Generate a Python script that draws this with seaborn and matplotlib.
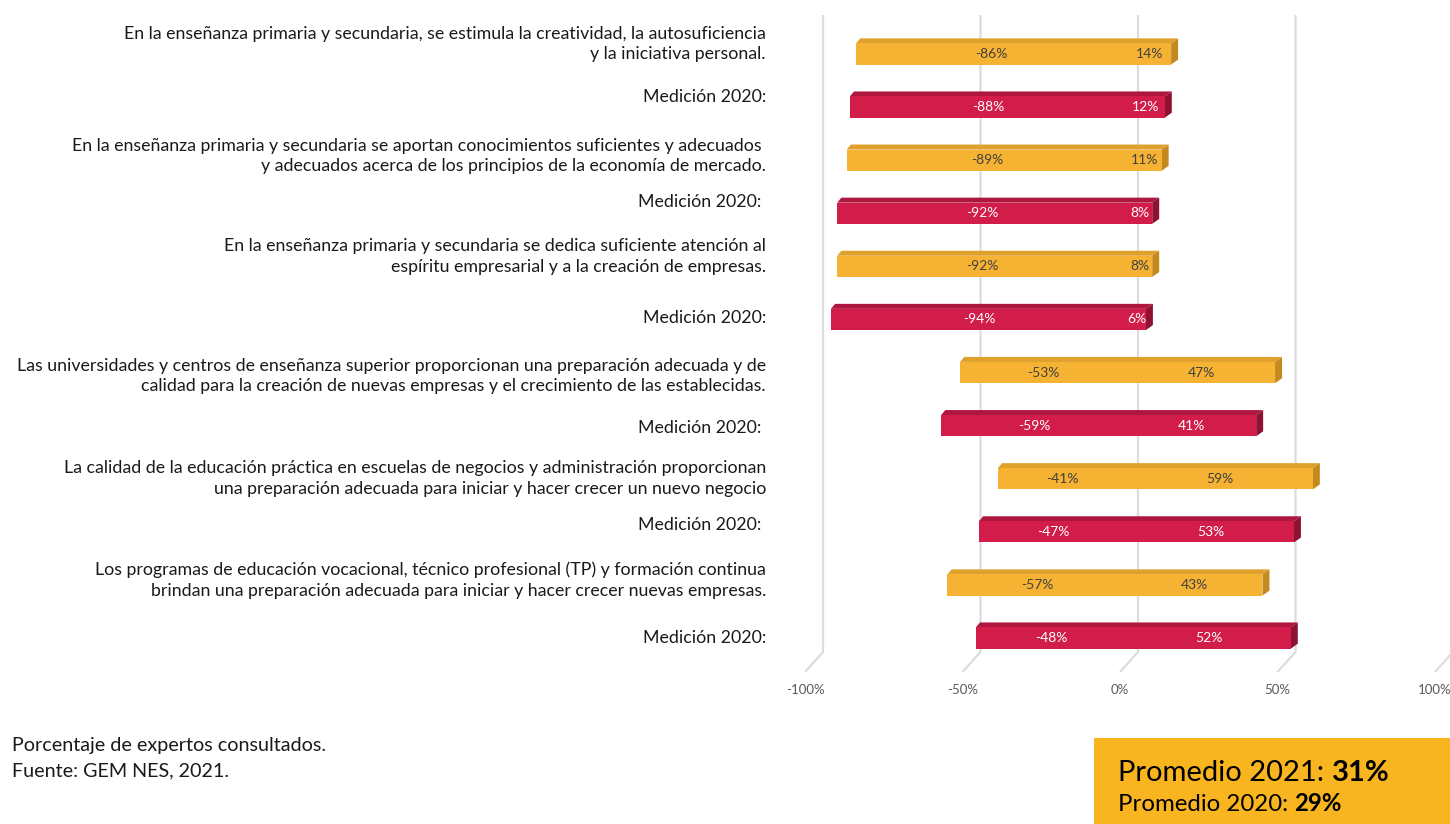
import matplotlib
matplotlib.use("Agg")
import matplotlib.pyplot as plt
import matplotlib.transforms as mtrans
from matplotlib.patches import Polygon, Rectangle
import seaborn as sns
import pandas as pd

sns.set_style("white")
plt.rcParams['font.family'] = ['Lato', 'DejaVu Sans']

# ---------------- data ----------------
row_labels = [
    "En la enseñanza primaria y secundaria, se estimula la creatividad, la autosuficiencia\ny la iniciativa personal.",
    "Medición 2020:",
    "En la enseñanza primaria y secundaria se aportan conocimientos suficientes y adecuados \ny adecuados acerca de los principios de la economía de mercado.",
    "Medición 2020: ",
    "En la enseñanza primaria y secundaria se dedica suficiente atención al\nespíritu empresarial y a la creación de empresas.",
    "Medición 2020:",
    "Las universidades y centros de enseñanza superior proporcionan una preparación adecuada y de\ncalidad para la creación de nuevas empresas y el crecimiento de las establecidas.",
    "Medición 2020: ",
    "La calidad de la educación práctica en escuelas de negocios y administración proporcionan\nuna preparación adecuada para iniciar y hacer crecer un nuevo negocio",
    "Medición 2020: ",
    "Los programas de educación vocacional, técnico profesional (TP) y formación continua\nbrindan una preparación adecuada para iniciar y hacer crecer nuevas empresas.",
    "Medición 2020:",
]
series = ["2021", "2020"] * 6
neg_values = [-86, -88, -89, -92, -92, -94, -53, -59, -41, -47, -57, -48]
pos_values = [14, 12, 11, 8, 8, 6, 47, 41, 59, 53, 43, 52]
x_ticks = [-100, -50, 0, 50, 100]
x_tick_labels = ["-100%", "-50%", "0%", "50%", "100%"]
footer_lines = ["Porcentaje de expertos consultados.", "Fuente: GEM NES, 2021."]
avg_2021 = 31
avg_2020 = 29

# ---------------- style ----------------
front_col = {"2021": "#F6B333", "2020": "#D21C4A"}
top_col = {"2021": "#DFA02C", "2020": "#B0173F"}
side_col = {"2021": "#C58A1F", "2020": "#8F1233"}
txt_col = {"2021": "#404040", "2020": "#FFFFFF"}
label_dy = [-10, -10, -4, -11, -10, -1.5, 3.4, 2.3, 0, -7, -5, 0]  # px offsets of left texts
ROW_PX = 53.1
PX_PER_PCT = 3.15
BAR_H = 0.40
DX = 7 / PX_PER_PCT   # depth in data % units
DY = 5 / ROW_PX       # depth in row units

W, H = 1450, 824
fig = plt.figure(figsize=(W / 100, H / 100), dpi=100)
ax = fig.add_axes([812 / W, (H - 672) / H, 630 / W, 657 / H])

ids = [f"r{i}" for i in range(len(neg_values))]
df = pd.DataFrame({"id": ids, "neg": neg_values, "pos": pos_values, "serie": series})
pal = {i: front_col[s] for i, s in zip(ids, series)}

sns.barplot(data=df, y="id", x="neg", hue="id", palette=pal, order=ids,
            orient="h", width=BAR_H, legend=False, ax=ax, zorder=3, linewidth=0, saturation=1)
sns.barplot(data=df, y="id", x="pos", hue="id", palette=pal, order=ids,
            orient="h", width=BAR_H, legend=False, ax=ax, zorder=3, linewidth=0, saturation=1)

ax.set_xlim(-100, 100)
ax.set_ylim(11.639, -0.734)
for s in ax.spines.values():
    s.set_visible(False)
ax.set_ylabel("")
ax.set_xlabel("")
ax.set_yticks([])
ax.set_xticks(x_ticks)
ax.set_xticklabels(x_tick_labels, color="#595959", fontsize=9.5)
ax.tick_params(axis="x", length=0, pad=9)
lab_shift = mtrans.ScaledTranslation(-7 / 100, 0, fig.dpi_scale_trans)
for lab in ax.get_xticklabels():
    lab.set_transform(lab.get_transform() + lab_shift)

# 3D-ish gridlines (back wall shifted right, slanted at the bottom)
back = 11 / PX_PER_PCT
front = -7 / PX_PER_PCT
y_knee = (652 - 54) / ROW_PX
for t in x_ticks:
    ax.plot([t + back, t + back, t + front], [-0.734, y_knee, 11.639], color="#DCDCDC",
            lw=1.6, zorder=0, clip_on=False, solid_capstyle="butt")

# depth faces + value labels
for i, (n, p, s) in enumerate(zip(neg_values, pos_values, series)):
    yt = i - BAR_H / 2
    yb = i + BAR_H / 2
    ax.add_patch(Polygon([(n, yt), (p, yt), (p + DX, yt - DY), (n + DX * 0.6, yt - DY)],
                         closed=True, fc=top_col[s], ec="none", zorder=2.5))
    ax.add_patch(Polygon([(p, yt), (p + DX, yt - DY), (p + DX, yb - DY), (p, yb)],
                         closed=True, fc=side_col[s], ec="none", zorder=2.5))
    ax.text(n / 2, i, f"{n}%", ha="center", va="center", fontsize=10,
            color=txt_col[s], zorder=5)
    ax.text(p / 2, i, f"{p}%", ha="center", va="center", fontsize=10,
            color=txt_col[s], zorder=5)

# left category texts
tr = mtrans.blended_transform_factory(fig.transFigure, ax.transData)
for i, (lab, d) in enumerate(zip(row_labels, label_dy)):
    ax.text(766 / W, i + d / ROW_PX, lab, transform=tr, ha="right", va="center",
            fontsize=12.8, color="#1a1a1a", linespacing=1.35, multialignment="right")

# footer
fig.text(12 / W, 1 - 746 / H, footer_lines[0], ha="left", va="center", fontsize=14.2, color="#1a1a1a")
fig.text(12 / W, 1 - 771 / H, footer_lines[1], ha="left", va="center", fontsize=14.2, color="#1a1a1a")

# average box
fig.add_artist(Rectangle((1094 / W, 0), (W - 1094) / W, (824 - 738) / H,
                         transform=fig.transFigure, fc="#F8B520", ec="none"))
renderer = fig.canvas.get_renderer()
for txt, val, ypx, fs in [("Promedio 2021: ", avg_2021, 781, 21), ("Promedio 2020: ", avg_2020, 811, 17.3)]:
    t = fig.text(1118 / W, 1 - ypx / H, txt, ha="left", va="baseline", fontsize=fs, color="black")
    x1 = t.get_window_extent(renderer).x1
    fig.text(x1 / W, 1 - ypx / H, f"{val}%", ha="left", va="baseline", fontsize=fs,
             fontweight="bold", color="black")

fig.savefig("out.png", dpi=100)
